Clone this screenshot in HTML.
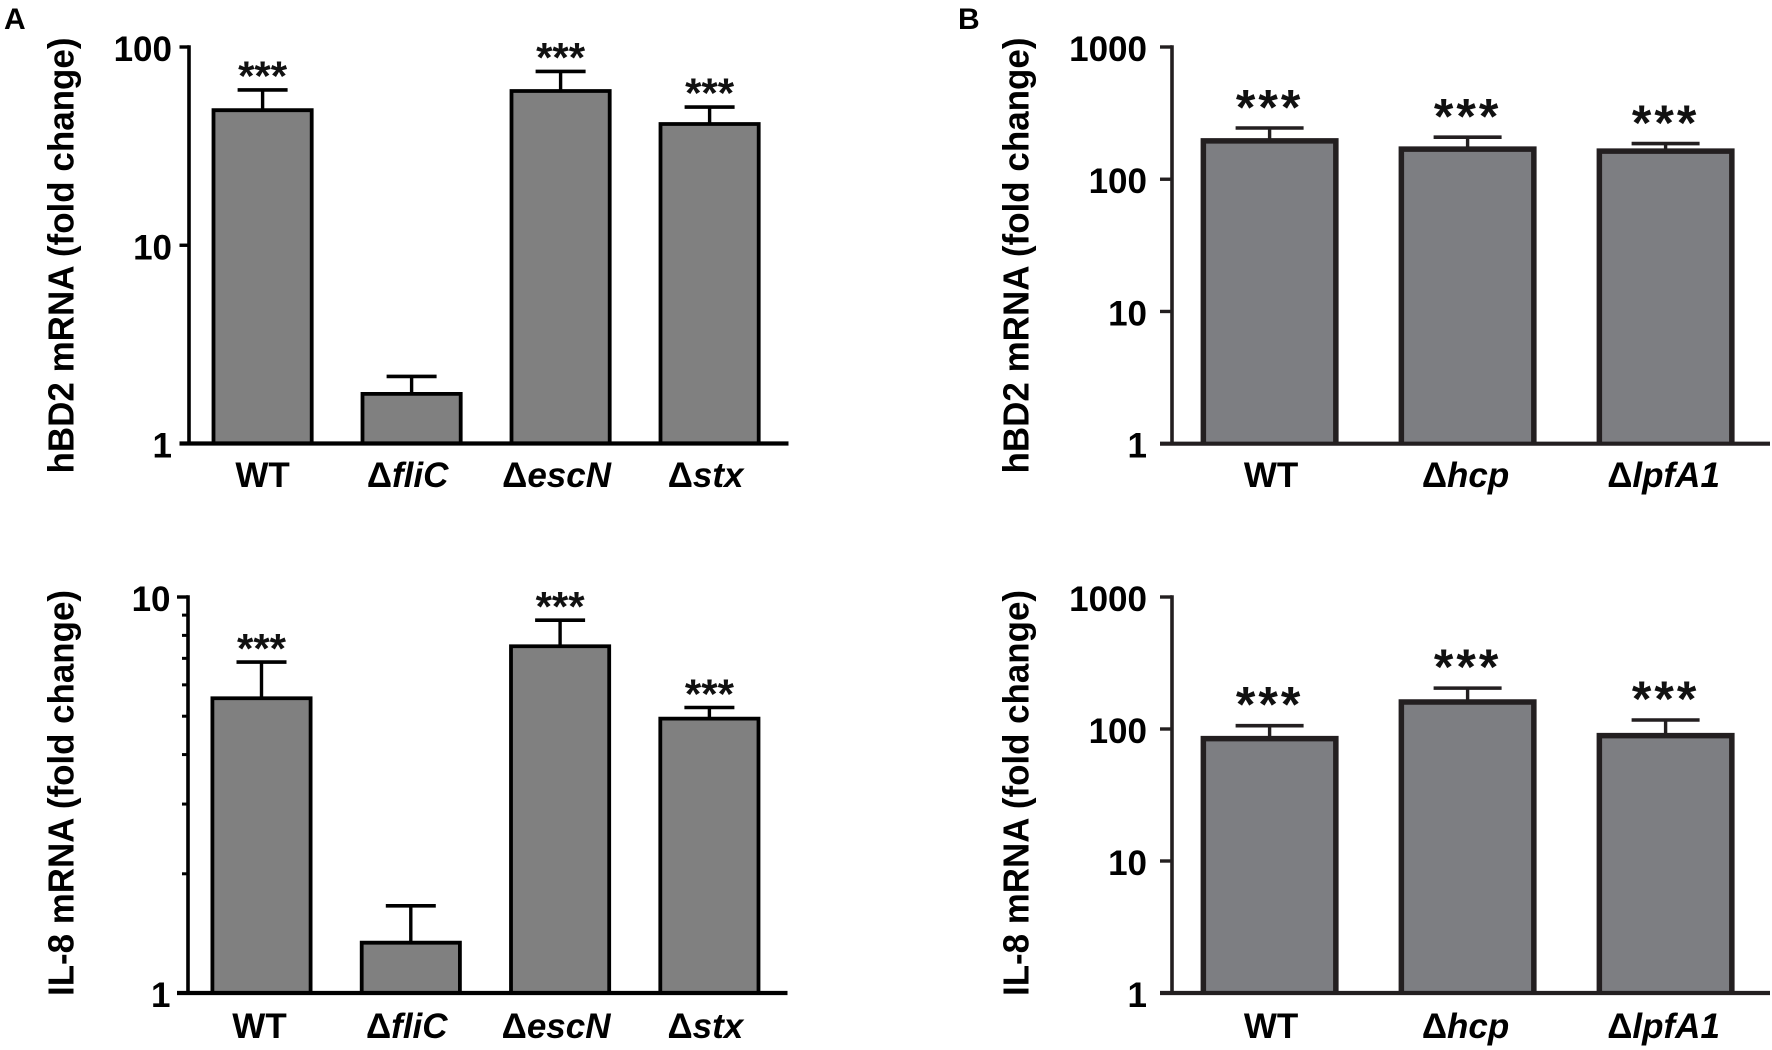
<!DOCTYPE html>
<html lang="en">
<head>
<meta charset="utf-8">
<title>hBD2 and IL-8 mRNA fold change</title>
<style>
html,body{margin:0;padding:0;background:#fff;}
svg{display:block;}
text{font-family:"Liberation Sans",sans-serif;font-weight:bold;}
</style>
</head>
<body>
<svg id="figure" xmlns="http://www.w3.org/2000/svg" width="1772" height="1050" viewBox="0 0 1772 1050">
<rect x="0" y="0" width="1772" height="1050" fill="#ffffff"/>
<text x="4" y="29" font-size="30" fill="#000">A</text>
<text x="958" y="29" font-size="30" fill="#000">B</text>
</svg>
<script>
// ---- Chart data ----
const categoriesA = ['WT', 'fliC', 'escN', 'stx'];
const categoriesB = ['WT', 'hcp', 'lpfA1'];

const hbd2ValuesA = [48, 1.78, 60, 40.9];
const hbd2ErrorTopsA = [60.7, 2.18, 75.3, 49.8];
const hbd2StarsA = [true, false, true, true];
const hbd2TicksA = [1, 10, 100];

const il8ValuesA = [5.55, 1.34, 7.51, 4.93];
const il8ErrorTopsA = [6.85, 1.66, 8.74, 5.26];
const il8StarsA = [true, false, true, true];
const il8TicksA = [1, 10];
const il8MinorTicksA = [2, 3, 4, 5, 6, 7, 8, 9];

const hbd2ValuesB = [195, 169, 163];
const hbd2ErrorTopsB = [244, 208, 186];
const hbd2StarsB = [true, true, true];
const hbd2TicksB = [1, 10, 100, 1000];

const il8ValuesB = [84.5, 160, 89];
const il8ErrorTopsB = [106, 204, 117];
const il8StarsB = [true, true, true];
const il8TicksB = [1, 10, 100, 1000];

const noMinorTicks = [];

const svg = document.getElementById('figure');
const NS = 'http://www.w3.org/2000/svg';

function make(tag, attrs, parent) {
  const el = document.createElementNS(NS, tag);
  for (const k in attrs) el.setAttribute(k, attrs[k]);
  parent.appendChild(el);
  return el;
}

function drawPanel(p) {
  const lo = Math.log10(p.ticks[0]);
  const hi = Math.log10(p.ticks[p.ticks.length - 1]);
  const yScale = v => p.yBase + (Math.log10(v) - lo) / (hi - lo) * (p.yTop - p.yBase);
  const xScale = i => p.x0 + i * p.step;

  const g = make('g', {}, svg);
  
  

  // bars first, so axis baseline overlaps them
  p.categories.forEach((cat, i) => {
    const cx = xScale(i);
    const top = yScale(p.values[i]);
    const errTop = yScale(p.errorTops[i]);

    const stem = make('line', {x1: cx, x2: cx, y1: top, y2: errTop, stroke: p.stroke, 'stroke-width': p.stemWidth}, g);
    
    

    const cap = make('line', {x1: cx - p.capWidth / 2, x2: cx + p.capWidth / 2, y1: errTop, y2: errTop, stroke: p.stroke, 'stroke-width': p.capThick}, g);
    
    

    const left = cx - p.barWidth / 2 + p.barStroke / 2;
    const right = cx + p.barWidth / 2 - p.barStroke / 2;
    const bar = make('path', {
      d: 'M' + left + ' ' + p.yBase + ' V' + top + ' H' + right + ' V' + p.yBase,
      fill: p.fill,
      stroke: p.stroke,
      'stroke-width': p.barStroke
    }, g);
    
    

    if (p.stars[i]) {
      const star = make('text', {x: cx, y: errTop + p.starOffset, 'font-size': p.starSize, 'letter-spacing': p.starSpacing, 'text-anchor': 'middle', fill: '#111'}, g);
      
      
      star.textContent = '***';
    }

    const label = make('text', {x: cx + (cat === 'WT' ? p.wtShift : p.labelShift), y: p.xLabelY, 'font-size': 35, 'text-anchor': 'middle', fill: '#000'}, g);
    
    
    if (cat === 'WT') {
      label.textContent = cat;
    } else {
      const delta = make('tspan', {}, label);
      delta.textContent = '\u0394';
      const it = make('tspan', {'font-style': 'italic'}, label);
      it.textContent = cat;
    }
  });

  // y axis line
  const yAxis = make('line', {x1: p.axisX, x2: p.axisX, y1: p.yTop - 1.7, y2: p.yBase, stroke: p.stroke, 'stroke-width': 3.6}, g);
  
  

  // x axis line
  const xAxis = make('line', {x1: p.tickX, x2: p.xEnd, y1: p.yBase, y2: p.yBase, stroke: p.stroke, 'stroke-width': 4.2}, g);
  
  

  p.ticks.forEach(t => {
    const y = yScale(t);
    const tick = make('line', {x1: p.tickX, x2: p.axisX, y1: y, y2: y, stroke: p.stroke, 'stroke-width': 3.4}, g);
    
    

    const lab = make('text', {x: p.tickLabelX, y: y + 14, 'font-size': 35, 'text-anchor': 'end', fill: '#000'}, g);
    
    
    lab.textContent = String(t);
  });

  p.minorTicks.forEach(t => {
    const y = yScale(t);
    const tick = make('line', {x1: p.axisX - 6, x2: p.axisX, y1: y, y2: y, stroke: p.stroke, 'stroke-width': 3}, g);
    
    
  });

  const title = make('text', {
    transform: 'translate(' + p.titleX + ',' + p.titleStart + ') rotate(-90)',
    x: 0, y: 0, 'font-size': 36, fill: '#000',
    textLength: p.titleLength, lengthAdjust: 'spacingAndGlyphs'
  }, g);
  
  
  title.textContent = p.title;
}

drawPanel({
  name: 'chart-a-hbd2', title: 'hBD2 mRNA (fold change)',
  categories: categoriesA, values: hbd2ValuesA, errorTops: hbd2ErrorTopsA, stars: hbd2StarsA,
  ticks: hbd2TicksA, minorTicks: noMinorTicks,
  yBase: 443.5, yTop: 47, axisX: 189, tickX: 179.5, xEnd: 788.5, tickLabelX: 172,
  x0: 262.6, step: 149, barWidth: 102, barStroke: 3.8, capWidth: 50, capThick: 3.6, stemWidth: 3.4,
  fill: '#808080', stroke: '#000', starSize: 42, starSpacing: 0, starOffset: 0.5, labelShift: -4, wtShift: 0,
  xLabelY: 487, titleX: 73.5, titleStart: 473.5, titleLength: 436
});

drawPanel({
  name: 'chart-a-il8', title: 'IL-8 mRNA (fold change)',
  categories: categoriesA, values: il8ValuesA, errorTops: il8ErrorTopsA, stars: il8StarsA,
  ticks: il8TicksA, minorTicks: il8MinorTicksA,
  yBase: 993, yTop: 597, axisX: 188, tickX: 177, xEnd: 787.5, tickLabelX: 170.5,
  x0: 261.5, step: 149.3, barWidth: 102, barStroke: 3.8, capWidth: 50, capThick: 3.6, stemWidth: 3.4,
  fill: '#808080', stroke: '#000', starSize: 42, starSpacing: 0, starOffset: 1, labelShift: -4, wtShift: -2,
  xLabelY: 1038, titleX: 73.5, titleStart: 996, titleLength: 406
});

drawPanel({
  name: 'chart-b-hbd2', title: 'hBD2 mRNA (fold change)',
  categories: categoriesB, values: hbd2ValuesB, errorTops: hbd2ErrorTopsB, stars: hbd2StarsB,
  ticks: hbd2TicksB, minorTicks: noMinorTicks,
  yBase: 443.7, yTop: 47, axisX: 1172, tickX: 1160, xEnd: 1770, tickLabelX: 1147,
  x0: 1269.6, step: 198, barWidth: 138, barStroke: 5.5, capWidth: 68, capThick: 3.6, stemWidth: 3.4,
  fill: '#7d7e82', stroke: '#231f20', starSize: 50, starSpacing: 3, starOffset: -3.5, labelShift: -2, wtShift: 1.5,
  xLabelY: 487, titleX: 1028.5, titleStart: 473.5, titleLength: 436
});

drawPanel({
  name: 'chart-b-il8', title: 'IL-8 mRNA (fold change)',
  categories: categoriesB, values: il8ValuesB, errorTops: il8ErrorTopsB, stars: il8StarsB,
  ticks: il8TicksB, minorTicks: noMinorTicks,
  yBase: 993, yTop: 597, axisX: 1172, tickX: 1160, xEnd: 1770, tickLabelX: 1147,
  x0: 1269.6, step: 198, barWidth: 138, barStroke: 5.5, capWidth: 68, capThick: 3.6, stemWidth: 3.4,
  fill: '#7d7e82', stroke: '#231f20', starSize: 50, starSpacing: 3, starOffset: -4, labelShift: -2, wtShift: 1.5,
  xLabelY: 1038, titleX: 1028.5, titleStart: 996, titleLength: 406
});
</script>
</body>
</html>
